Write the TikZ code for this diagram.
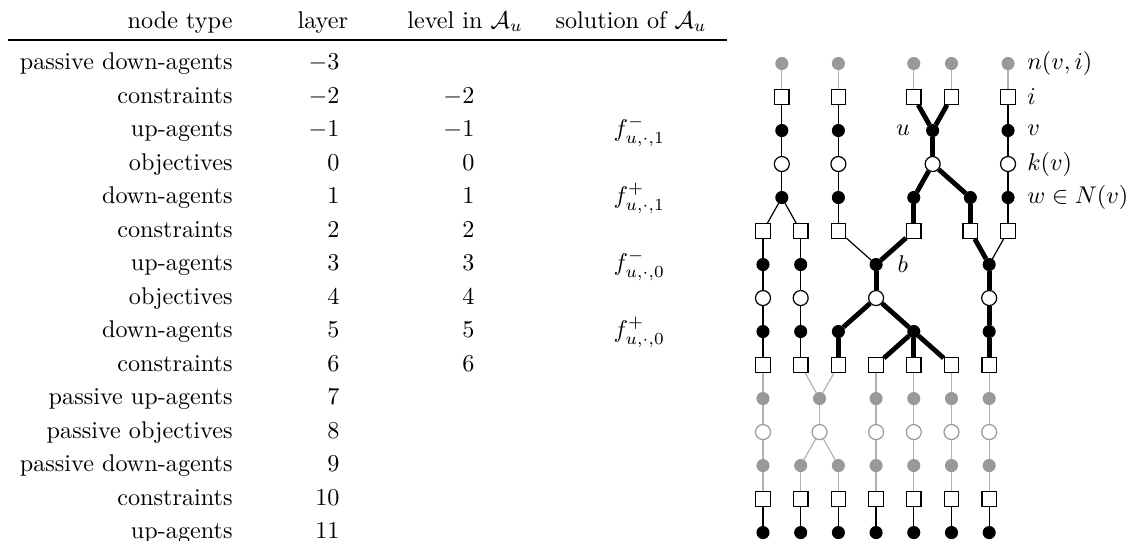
\documentclass[tikz,border=0pt]{standalone}
\usepackage{amsmath}
\usepackage{amssymb}
\usepackage{tikz}
\usetikzlibrary{positioning}

\tikzset{
  agent/.style={circle, fill=black, draw=black, inner sep=0pt, minimum size=5pt},
  objective/.style={circle, fill=white, draw=black, line width=0.5pt, inner sep=0pt, minimum size=6.2pt},
  constraint/.style={rectangle, fill=white, draw=black, line width=0.5pt, inner sep=0pt, minimum size=6pt},
  pagent/.style={agent, fill=black!40, draw=black!40},
  pobjective/.style={objective, draw=black!40},
  thinedge/.style={line width=0.5pt},
  solnedge/.style={line width=2pt},
  passedge/.style={line width=0.5pt, black!30},
  tlabel/.style={inner sep=0pt},
}

\begin{document}
\begin{tikzpicture}[y=-0.4868cm]
\useasboundingbox (0,-4.896) rectangle (16.448,11.224);

% table on the left
\node[tlabel, anchor=base east] (h-type) at (3.386,-4.06) {node type};
\node[tlabel, anchor=base] (h-layer) at (4.69,-4.06) {layer};
\node[tlabel, anchor=base] (h-level) at (6.757,-4.06) {level in $\mathcal{A}_u$};
\node[tlabel, anchor=base] (h-sol) at (9.17,-4.06) {solution of $\mathcal{A}_u$};
\draw[line width=0.6pt] (0.116,-3.70) -- (10.56,-3.70);

\foreach \t [count=\i from -3] in {passive down-agents, constraints, up-agents,
    objectives, down-agents, constraints, up-agents, objectives, down-agents,
    constraints, passive up-agents, passive objectives, passive down-agents,
    constraints, up-agents}
{
  \node[tlabel, anchor=base east] (type\i) at (3.386,\i+0.18) {\t};
  \node[tlabel, anchor=base east] (layer\i) at (4.94,\i+0.18) {$\i$};
}
\foreach \i in {-2,...,6}
  \node[tlabel, anchor=base east] (level\i) at (6.90,\i+0.18) {$\i$};

\node[tlabel, anchor=base west] (sol-1) at (8.91,-0.82) {$f^-_{u,\cdot,1}$};
\node[tlabel, anchor=base west] (sol1) at (8.91,1.18) {$f^+_{u,\cdot,1}$};
\node[tlabel, anchor=base west] (sol3) at (8.91,3.18) {$f^-_{u,\cdot,0}$};
\node[tlabel, anchor=base west] (sol5) at (8.91,5.18) {$f^+_{u,\cdot,0}$};

% the graph
\begin{scope}[xshift=11.086cm, x=0.5478cm]
\foreach \x [count=\i] in {0.5,2,4,5,6.5} \node[pagent] (m3-\i) at (\x,-3) {};
\foreach \x [count=\i] in {0.5,2,4,5,6.5} \node[constraint] (m2-\i) at (\x,-2) {};
\foreach \x [count=\i] in {0.5,2,4.5,6.5} \node[agent] (m1-\i) at (\x,-1) {};
\foreach \x [count=\i] in {0.5,2,4.5,6.5} \node[objective] (l0-\i) at (\x,0) {};
\foreach \x [count=\i] in {0.5,2,4,5.5,6.5} \node[agent] (l1-\i) at (\x,1) {};
\foreach \x [count=\i] in {0,1,2,4,5.5,6.5} \node[constraint] (l2-\i) at (\x,2) {};
\foreach \x [count=\i] in {0,1,3,6} \node[agent] (l3-\i) at (\x,3) {};
\foreach \x [count=\i] in {0,1,3,6} \node[objective] (l4-\i) at (\x,4) {};
\foreach \x [count=\i] in {0,1,2,4,6} \node[agent] (l5-\i) at (\x,5) {};
\foreach \x [count=\i] in {0,...,6} \node[constraint] (l6-\i) at (\x,6) {};
\foreach \x [count=\i] in {0,1.5,3,4,5,6} \node[pagent] (l7-\i) at (\x,7) {};
\foreach \x [count=\i] in {0,1.5,3,4,5,6} \node[pobjective] (l8-\i) at (\x,8) {};
\foreach \x [count=\i] in {0,...,6} \node[pagent] (l9-\i) at (\x,9) {};
\foreach \x [count=\i] in {0,...,6} \node[constraint] (l10-\i) at (\x,10) {};
\foreach \x [count=\i] in {0,...,6} \node[agent] (l11-\i) at (\x,11) {};

% connectors
\foreach \a in {1,...,5} \draw[passedge] (m3-\a) -- (m2-\a);
\foreach \a/\b in {1/1,2/2,5/4} \draw[thinedge] (m2-\a) -- (m1-\b);
\foreach \a/\b in {3/3,4/3} \draw[solnedge] (m2-\a) -- (m1-\b);
\foreach \a in {1,2,4} \draw[thinedge] (m1-\a) -- (l0-\a);
\draw[solnedge] (m1-3) -- (l0-3);
\foreach \a/\b in {1/1,2/2,4/5} \draw[thinedge] (l0-\a) -- (l1-\b);
\foreach \a/\b in {3/3,3/4} \draw[solnedge] (l0-\a) -- (l1-\b);
\foreach \a/\b in {1/1,1/2,2/3,5/6} \draw[thinedge] (l1-\a) -- (l2-\b);
\foreach \a/\b in {3/4,4/5} \draw[solnedge] (l1-\a) -- (l2-\b);
\foreach \a/\b in {1/1,2/2,3/3,6/4} \draw[thinedge] (l2-\a) -- (l3-\b);
\foreach \a/\b in {4/3,5/4} \draw[solnedge] (l2-\a) -- (l3-\b);
\foreach \a in {1,2} \draw[thinedge] (l3-\a) -- (l4-\a);
\foreach \a in {3,4} \draw[solnedge] (l3-\a) -- (l4-\a);
\foreach \a/\b in {1/1,2/2} \draw[thinedge] (l4-\a) -- (l5-\b);
\foreach \a/\b in {3/3,3/4,4/5} \draw[solnedge] (l4-\a) -- (l5-\b);
\foreach \a/\b in {1/1,2/2} \draw[thinedge] (l5-\a) -- (l6-\b);
\foreach \a/\b in {3/3,4/4,4/5,4/6,5/7} \draw[solnedge] (l5-\a) -- (l6-\b);
\foreach \a/\b in {1/1,2/2,3/2,4/3,5/4,6/5,7/6} \draw[passedge] (l6-\a) -- (l7-\b);
\foreach \a in {1,...,6} \draw[passedge] (l7-\a) -- (l8-\a);
\foreach \a/\b in {1/1,2/2,2/3,3/4,4/5,5/6,6/7} \draw[passedge] (l8-\a) -- (l9-\b);
\foreach \a in {1,...,7} \draw[passedge] (l9-\a) -- (l10-\a);
\foreach \a in {1,...,7} \draw[thinedge] (l10-\a) -- (l11-\a);

% labels
\node[tlabel, anchor=west] (lab-n) at (7,-3) {$n(v,i)$};
\node[tlabel, anchor=west] (lab-i) at (7,-2) {$i$};
\node[tlabel, anchor=west] (lab-v) at (7,-1) {$v$};
\node[tlabel, anchor=west] (lab-k) at (7,0) {$k(v)$};
\node[tlabel, anchor=west] (lab-w) at (7,1) {$w \in N(v)$};
\node[tlabel, left=6.5pt of m1-3] (lab-u) {$u$};
\node[tlabel, right=6pt of l3-3] (lab-b) {$b$};
\end{scope}
\end{tikzpicture}
\end{document}
